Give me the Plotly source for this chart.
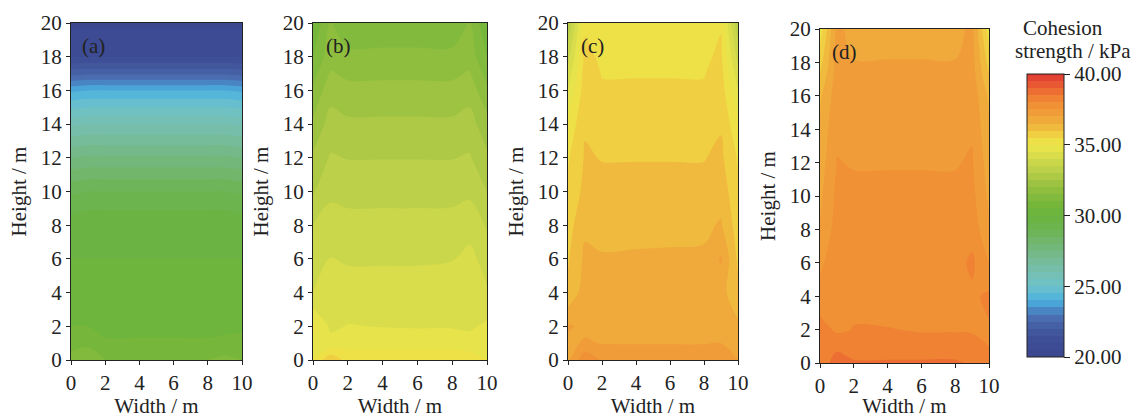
import plotly.graph_objects as go

# Grid (m)
x_width = [0, 1, 2, 4, 6, 8, 9, 10]
y_height = [0, 1, 2, 4, 6, 8, 10, 12, 14, 16, 17, 18, 20]

# Cohesion strength (kPa), rows follow y_height, columns follow x_width
cohesion_a = [
    [31.2, 31.3, 31.0, 31.0, 31.0, 31.0, 31.1, 31.0],
    [30.8, 30.9, 30.6, 30.6, 30.6, 30.6, 30.7, 30.7],
    [30.5, 30.5, 30.3, 30.3, 30.3, 30.3, 30.3, 30.4],
    [30.2, 30.1, 30.1, 30.1, 30.1, 30.1, 30.1, 30.2],
    [30.0, 30.0, 30.0, 30.0, 30.0, 30.0, 30.0, 30.0],
    [29.8, 29.9, 29.9, 29.9, 29.9, 29.9, 29.9, 29.8],
    [28.9, 29.0, 29.0, 29.0, 29.0, 29.0, 29.0, 28.9],
    [27.5, 27.6, 27.6, 27.6, 27.6, 27.6, 27.6, 27.5],
    [25.9, 26.0, 26.0, 26.0, 26.0, 26.0, 26.0, 25.9],
    [23.9, 24.0, 24.0, 24.0, 24.0, 24.0, 24.0, 23.9],
    [22.3, 22.4, 22.4, 22.4, 22.4, 22.4, 22.4, 22.3],
    [21.0, 21.0, 21.0, 21.0, 21.0, 21.0, 21.0, 21.0],
    [20.4, 20.4, 20.4, 20.4, 20.4, 20.4, 20.4, 20.4],
]
cohesion_b = [
    [35.0, 35.9, 35.3, 35.25, 35.25, 35.25, 35.3, 35.0],
    [34.9, 34.65, 34.85, 34.85, 34.85, 34.85, 34.7, 34.8],
    [35.1, 34.42, 34.52, 34.48, 34.45, 34.45, 34.42, 34.6],
    [34.0, 34.25, 34.2, 34.2, 34.2, 34.2, 34.3, 34.05],
    [33.7, 34.02, 33.95, 33.95, 33.95, 33.98, 34.15, 33.8],
    [33.5, 33.7, 33.65, 33.65, 33.65, 33.67, 33.8, 33.45],
    [32.95, 33.4, 33.35, 33.35, 33.35, 33.35, 33.4, 33.0],
    [32.6, 33.05, 32.98, 32.98, 32.98, 32.98, 33.05, 32.6],
    [32.1, 32.7, 32.6, 32.6, 32.6, 32.6, 32.7, 32.2],
    [31.6, 32.3, 32.15, 32.15, 32.15, 32.15, 32.3, 31.6],
    [31.3, 32.05, 31.9, 31.9, 31.9, 31.9, 32.05, 31.3],
    [31.0, 31.8, 31.65, 31.65, 31.65, 31.65, 31.8, 31.0],
    [30.6, 31.5, 31.1, 31.1, 31.1, 31.1, 31.5, 30.6],
]
cohesion_c = [
    [36.9, 37.9, 37.45, 37.4, 37.4, 37.4, 37.3, 37.0],
    [36.9, 37.05, 36.98, 36.97, 36.97, 36.97, 37.0, 36.8],
    [37.05, 36.9, 36.88, 36.88, 36.88, 36.88, 36.85, 36.6],
    [36.1, 36.75, 36.72, 36.72, 36.72, 36.72, 36.7, 36.1],
    [35.95, 36.6, 36.54, 36.56, 36.58, 36.58, 37.05, 35.9],
    [35.8, 36.4, 36.35, 36.35, 36.35, 36.4, 36.55, 35.75],
    [35.6, 36.15, 36.15, 36.15, 36.15, 36.15, 36.3, 35.6],
    [35.45, 36.05, 35.98, 35.98, 35.98, 35.98, 36.1, 35.45],
    [35.1, 35.95, 35.78, 35.78, 35.78, 35.78, 35.95, 35.1],
    [34.5, 35.8, 35.55, 35.55, 35.55, 35.55, 35.78, 34.5],
    [34.2, 35.75, 35.48, 35.48, 35.48, 35.48, 35.7, 34.2],
    [33.8, 35.65, 35.4, 35.4, 35.4, 35.4, 35.6, 33.8],
    [33.0, 35.4, 35.2, 35.2, 35.2, 35.2, 35.45, 33.0],
]
cohesion_d = [
    [38.0, 38.9, 38.6, 38.6, 38.6, 38.6, 38.4, 38.2],
    [38.0, 38.3, 38.1, 38.1, 38.1, 38.1, 38.1, 38.0],
    [38.2, 37.92, 38.02, 38.01, 37.98, 37.98, 37.97, 37.95],
    [37.7, 37.9, 37.88, 37.88, 37.88, 37.88, 37.9, 38.1],
    [37.4, 37.82, 37.8, 37.8, 37.8, 37.8, 38.1, 37.5],
    [37.05, 37.72, 37.7, 37.7, 37.7, 37.7, 37.8, 37.1],
    [36.9, 37.62, 37.6, 37.6, 37.6, 37.6, 37.65, 36.9],
    [36.75, 37.52, 37.47, 37.47, 37.47, 37.47, 37.55, 36.75],
    [36.6, 37.42, 37.35, 37.35, 37.35, 37.35, 37.45, 36.6],
    [36.4, 37.3, 37.2, 37.2, 37.2, 37.2, 37.32, 36.4],
    [36.1, 37.25, 37.1, 37.1, 37.1, 37.1, 37.25, 36.1],
    [35.8, 37.2, 37.02, 37.02, 37.02, 37.02, 37.2, 35.8],
    [35.2, 37.15, 36.8, 36.8, 36.8, 36.8, 37.15, 35.2],
]
panel_labels = ["(a)", "(b)", "(c)", "(d)"]
cbar_ticks = [20, 25, 30, 35, 40]
cbar_ticktext = ["20.00", "25.00", "30.00", "35.00", "40.00"]
x_ticks = [0, 2, 4, 6, 8, 10]
y_ticks = [0, 2, 4, 6, 8, 10, 12, 14, 16, 18, 20]

W, H = 1136, 418
FONT = "Liberation Serif"
INK = "#222222"

colorscale = [
    [0.000, "#3a468e"], [0.050, "#3d4c94"], [0.100, "#44599f"],
    [0.150, "#4a74b6"], [0.175, "#4a96d0"], [0.200, "#4cb2e0"],
    [0.250, "#6ec2c8"], [0.300, "#76bfb0"], [0.350, "#76ba92"],
    [0.400, "#72b772"], [0.450, "#6cb452"], [0.500, "#6ab43e"],
    [0.550, "#7ab83a"], [0.600, "#96c040"], [0.650, "#b4cc48"],
    [0.700, "#d2da4c"], [0.750, "#ece64a"], [0.775, "#f0dc44"],
    [0.800, "#f0c440"], [0.825, "#f0b03c"], [0.850, "#f0a23a"],
    [0.875, "#f09838"], [0.900, "#f08a34"], [0.925, "#ee7a31"],
    [0.950, "#ea6232"], [1.000, "#e03a34"],
]

# pixel boxes (left, right, top, bottom)
boxes = [(71, 242, 23, 360), (313, 487, 23, 360), (568, 738, 23, 360), (820, 989, 29, 363)]
data_sets = [cohesion_a, cohesion_b, cohesion_c, cohesion_d]

fig = go.Figure()
layout = dict(
    width=W, height=H, margin=dict(l=0, r=0, t=0, b=0), autosize=False,
    paper_bgcolor="white", plot_bgcolor="white",
    font=dict(family=FONT, size=21, color=INK), showlegend=False,
)
annotations = []
for i, (z, lab, box) in enumerate(zip(data_sets, panel_labels, boxes)):
    n = "" if i == 0 else str(i + 1)
    l, r, t, b = box
    fig.add_trace(go.Contour(
        x=x_width, y=y_height, z=z,
        xaxis="x" + n, yaxis="y" + n,
        colorscale=colorscale, zmin=20, zmax=40,
        contours=dict(start=20, end=40, size=0.5, coloring="fill", showlines=False),
        line=dict(width=0),
        showscale=(i == 0),
        colorbar=dict(
            x=1027 / W, xanchor="left", xpad=0, ypad=0,
            thickness=37, thicknessmode="pixels",
            len=283 / H, lenmode="fraction", y=1 - 215.5 / H, yanchor="middle",
            outlinewidth=1, outlinecolor=INK,
            tickvals=cbar_ticks, ticktext=cbar_ticktext,
            ticks="outside", ticklen=6, tickcolor=INK,
            tickfont=dict(family=FONT, size=21, color=INK),
        ),
    ))
    axstyle = dict(showline=True, mirror=True, linecolor=INK, linewidth=1,
                   ticks="outside", ticklen=4, tickcolor=INK, showgrid=False,
                   zeroline=False, automargin=False,
                   tickfont=dict(family=FONT, size=21, color=INK))
    layout["xaxis" + n] = dict(
        domain=[l / W, r / W], range=[0, 10], tickvals=x_ticks,
        anchor="y" + n,
        title=dict(text="Width / m", standoff=6, font=dict(family=FONT, size=21, color=INK)),
        **axstyle)
    layout["yaxis" + n] = dict(
        domain=[1 - b / H, 1 - t / H], range=[0, 20], tickvals=y_ticks,
        anchor="x" + n,
        title=dict(text="Height / m", standoff=8, font=dict(family=FONT, size=21, color=INK)),
        **axstyle)
    annotations.append(dict(
        x=1.45 if i else 1.3, y=18.65, xref="x" + n, yref="y" + n,
        text=lab, showarrow=False, xanchor="center", yanchor="middle",
        font=dict(family=FONT, size=21, color=INK)))

annotations.append(dict(x=1063 / W, y=1 - 28 / H, xref="paper", yref="paper",
                        text="Cohesion", showarrow=False, xanchor="center", yanchor="middle",
                        font=dict(family=FONT, size=21, color=INK)))
annotations.append(dict(x=1073 / W, y=1 - 51 / H, xref="paper", yref="paper",
                        text="strength / kPa", showarrow=False, xanchor="center", yanchor="middle",
                        font=dict(family=FONT, size=21, color=INK)))
layout["annotations"] = annotations
fig.update_layout(**layout)
fig.write_html(
    "out.html",
    config={"displayModeBar": False},
    post_script="document.body.style.margin='0';document.body.style.padding='0';"
                "document.body.style.overflow='hidden';",
)
